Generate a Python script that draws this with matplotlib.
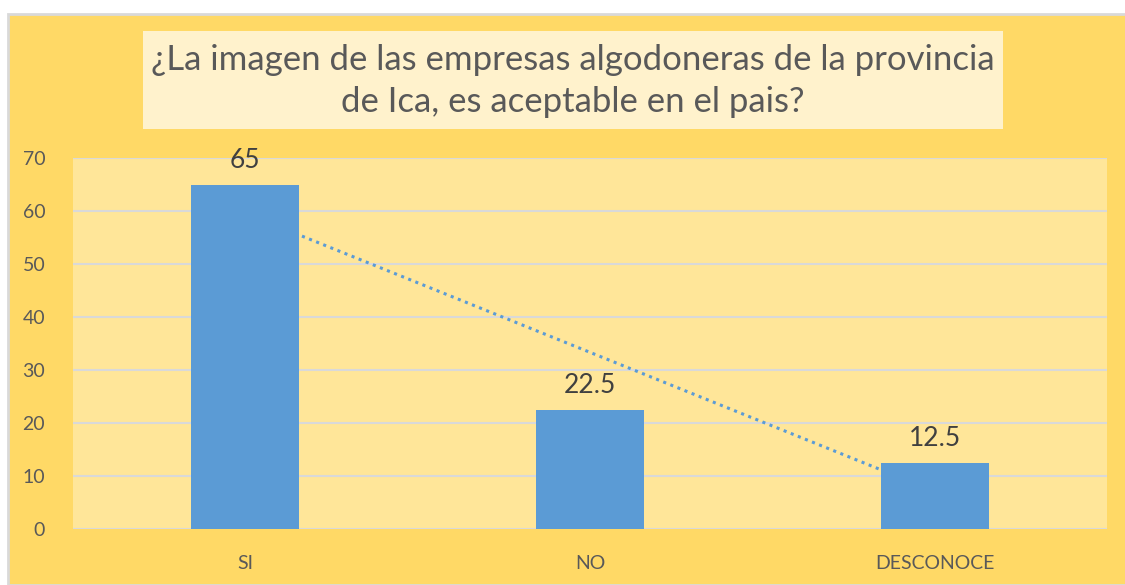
import matplotlib.pyplot as plt
from matplotlib.patches import Rectangle
import numpy as np

categorias = ['SI', 'NO', 'DESCONOCE']
valores = [65, 22.5, 12.5]
titulo = '¿La imagen de las empresas algodoneras de la provincia\nde Ica, es aceptable en el pais?'

plt.rcParams['font.family'] = ['Lato', 'DejaVu Sans']

W, H = 1125, 585
fig = plt.figure(figsize=(W / 100, H / 100), dpi=100)
fig.patch.set_facecolor('white')

# fondo del grafico con borde gris
fig.patches.append(Rectangle((8 / W, 0), 1, 1 - 14 / H, transform=fig.transFigure,
                             facecolor='#FFD966', edgecolor='#D9D9D9', linewidth=2, zorder=-2))
# caja del titulo
fig.patches.append(Rectangle((143 / W, 1 - 129 / H), 860 / W, 98 / H, transform=fig.transFigure,
                             facecolor='#FFF2CC', edgecolor='none', zorder=-1))
fig.text(573 / W, 1 - 81 / H, titulo, ha='center', va='center', fontsize=25,
         color='#595959', linespacing=1.4)

ax = fig.add_axes([73 / W, 1 - 529 / H, 1034 / W, 371 / H])
ax.set_facecolor('#FFE699')

x = np.arange(1, len(categorias) + 1)
ax.bar(x, valores, width=0.313, color='#5B9BD5', zorder=3)

# linea de tendencia lineal
m, b = np.polyfit(x, valores, 1)
ax.plot([1, 3], [m * 1 + b, m * 3 + b], linestyle=(0, (1, 1.5)), color='#5B9BD5',
        linewidth=2.2, zorder=2)

for xi, v in zip(x, valores):
    ax.text(xi, v + 2.2, f'{v:g}', ha='center', va='bottom', fontsize=19, color='#404040')

ax.set_xlim(0.5, 3.5)
ax.set_ylim(0, 70)
ax.set_yticks(range(0, 71, 10))
ax.set_xticks(x)
ax.set_xticklabels(categorias)
ax.grid(axis='y', color='#D9D9D9', linewidth=1.5, zorder=1)
ax.set_axisbelow(True)
for s in ax.spines.values():
    s.set_visible(False)
ax.tick_params(length=0, labelsize=14, colors='#595959')
ax.tick_params(axis='y', pad=20)
ax.tick_params(axis='x', pad=19)

fig.savefig('out.png', dpi=100, facecolor=fig.get_facecolor())
